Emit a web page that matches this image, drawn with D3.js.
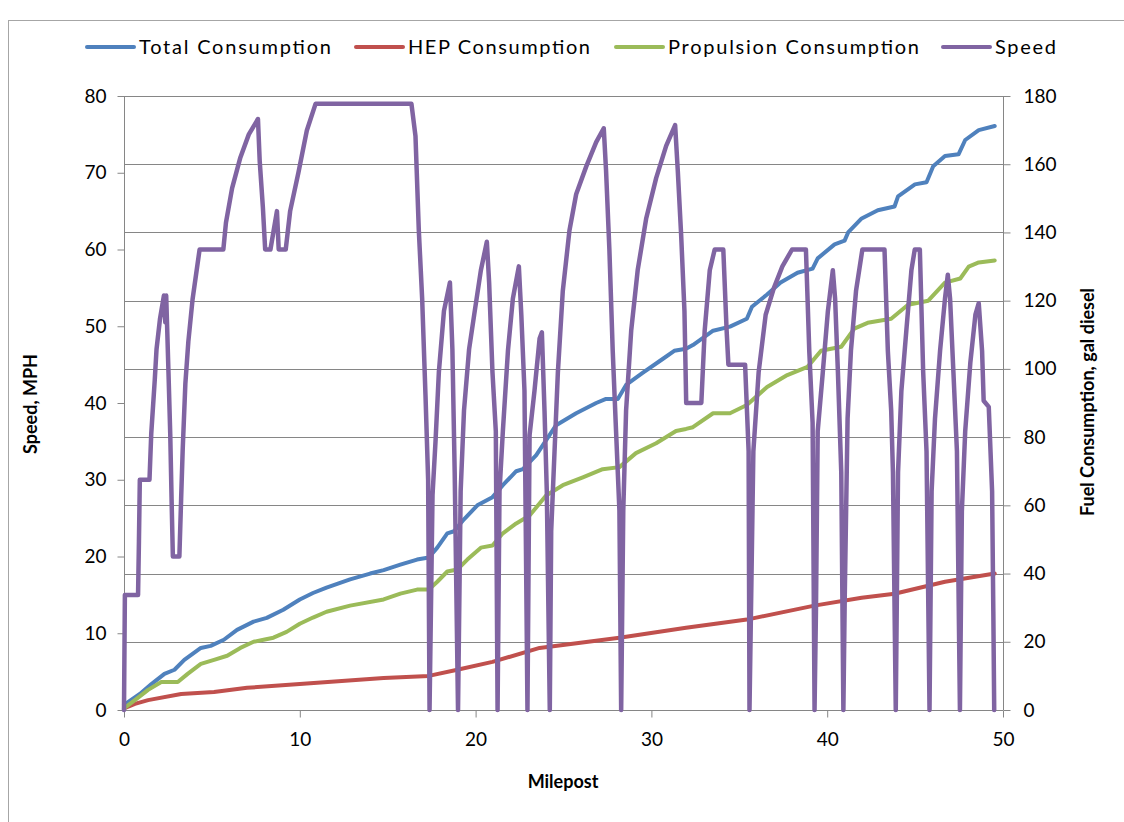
<!DOCTYPE html>
<html><head><meta charset="utf-8">
<script src="https://cdn.jsdelivr.net/npm/d3@7"></script>
<style>
body{margin:0;background:#fff;}
svg{display:block;font-family:Lato,"Liberation Sans",sans-serif;}
</style>
</head><body><svg id="c" width="1124" height="822"></svg>
<script>
// ---------- data ----------
const seriesNames  = ["Total Consumption","HEP Consumption","Propulsion Consumption","Speed"];
const seriesColors = ["#4F81BD","#C0504D","#9BBB59","#8064A2"];

const speedMile = [0,0.05,0.8,0.85,0.9,1.45,1.55,1.75,1.85,2.05,2.27,2.35,2.4,2.53,2.63,2.72,2.78,3.15,3.25,3.34,3.49,3.66,3.9,4.3,5.65,5.8,6.15,6.62,7.1,7.62,7.72,7.9,8.03,8.33,8.7,8.8,9.2,9.45,9.92,10.4,10.9,16.35,16.58,16.77,16.96,17.15,17.3,17.38,17.55,17.72,17.91,18.2,18.54,18.68,18.81,19.0,19.15,19.34,19.63,19.92,20.3,20.64,20.77,20.96,21.15,21.25,21.36,21.55,21.84,22.12,22.46,22.6,22.78,22.95,23.07,23.35,23.64,23.77,23.92,24.05,24.22,24.3,24.49,24.68,24.96,25.34,25.72,26.29,26.86,27.29,27.42,27.61,27.8,27.99,28.18,28.28,28.4,28.56,28.85,29.22,29.7,30.27,30.84,31.35,31.5,31.69,31.88,31.98,32.84,33.03,33.32,33.6,34.09,34.28,34.38,35.33,35.53,35.58,35.8,36.1,36.5,36.97,37.45,38.0,38.79,38.98,39.17,39.28,39.36,39.46,39.75,40.04,40.32,40.45,40.61,40.8,40.92,41.0,41.16,41.35,41.64,42.0,43.26,43.45,43.64,43.74,43.9,44.03,44.22,44.5,44.79,44.98,45.27,45.46,45.65,45.82,45.94,46.13,46.42,46.7,46.86,46.99,47.18,47.38,47.55,47.66,47.85,48.14,48.43,48.62,48.81,48.9,49.19,49.38,49.45,49.5];
const speedMph  = [0,15,15,22,30,30,36,43,47,51,54,50.5,54,44,36,26,20,20,27.5,34,42.5,48,53.5,60,60,63.5,68,72,75,77,71.5,65.5,60,60,65,60,60,65,70,75.5,79,79,74.8,62.5,53.6,41,30,0,28,35,44,52,55.7,47,31,0,28.5,39,47,51.5,57.3,61,55.7,44,36.3,0,28.5,36.3,46.8,53.6,57.8,51.5,41.6,0,35.8,41.6,48.4,49.2,39,28.5,0,23.3,33.7,44,54.6,62.5,67.2,70.8,74,75.8,70.3,60,46.8,36.3,26,0,26,39,49.4,57.3,64,69.3,73.5,76.2,70.3,62,52,40,40,49.4,57.3,60,60,49.4,45,45,33.7,0,33.7,44,51.5,55,57.8,60,60,46.8,37.4,0,12.8,36.3,44,52,57.3,53.6,44,31,0,15,38,46.8,54.6,60,60,46.8,39,31,0,31,41.6,49.4,57.3,60,60,44,33.7,0,28.5,37.9,46.8,53.6,56.7,53.6,44,33.7,0,25.9,36.3,45.2,51.5,53,46.8,40.3,39.5,28.5,12.8,0];

const totalMile = [0,0.9,1.56,2.3,2.87,3.43,4.37,4.93,5.68,6.43,7.37,8.12,9.06,10.0,10.75,11.52,12.86,14.0,14.77,15.72,16.67,17.34,17.82,18.39,18.77,19.34,20.1,20.96,21.55,22.31,22.69,23.45,24.58,25.72,26.86,27.42,28.09,28.56,29.5,30.64,31.3,31.97,32.36,33.51,34.47,35.43,35.72,36.58,37.35,38.31,39.17,39.46,40.42,40.99,41.19,41.96,42.88,43.83,44.03,44.99,45.65,46.03,46.7,47.47,47.85,48.62,49.53];
const totalGal  = [1.5,4.7,7.6,10.6,11.8,14.7,18.2,18.8,20.6,23.5,25.9,27,29.4,32.4,34.3,35.9,38.3,40,41,42.6,44.1,44.7,47.6,51.8,52.4,55.9,60,62.4,65.9,70,70.6,74.7,83.5,87,90,91.2,91.2,95.3,98.8,102.9,105.3,105.9,107,111.2,112.4,114.7,118.2,121.8,125.3,128.2,129.4,132.4,136.5,137.6,140,144.1,146.5,147.6,150.6,154.1,154.7,159.4,162.4,162.9,167.1,170,171.2];

const propMile = [0,0.62,1.37,2.12,3.06,3.62,4.37,5.12,5.87,6.62,7.37,7.94,8.5,9.25,10.0,10.75,11.52,12.86,14.77,15.72,16.67,17.34,17.82,18.39,18.96,19.53,20.3,20.96,21.55,22.31,23.07,24.01,24.96,26.1,27.23,28.18,29.12,30.27,31.4,31.97,32.36,33.51,34.47,35.43,36.58,37.73,38.88,39.65,40.8,41.54,42.3,43.64,44.6,45.75,46.7,47.57,48.05,48.62,49.53];
const propGal  = [0.5,2.9,5.9,8.2,8.2,10.6,13.5,14.7,15.9,18.2,20,20.6,21.2,22.9,25.3,27.1,28.8,30.6,32.4,34.1,35.3,35.3,37.6,40.6,41.2,44.1,47.6,48.2,51.8,54.7,57,62.9,65.9,68.2,70.6,71.2,75.3,78.2,81.8,82.4,82.9,87,87,89.4,94.7,98.2,100.6,105.3,106.5,111.8,113.5,114.7,118.8,120,125.3,126.5,130,131.2,131.8];

const hepMile = [0,0.62,1.37,3.25,5.12,7.0,10.0,14.77,17.34,18.96,20.96,23.64,28.18,31.97,35.43,39.27,41.96,43.83,46.7,49.53];
const hepGal  = [0.5,1.8,2.9,4.7,5.3,6.5,7.6,9.4,10.0,11.8,14.1,18.2,21.2,24.1,26.5,30.6,32.9,34.1,37.6,40];

const xTicks     = [0,10,20,30,40,50];
const speedTicks = [0,10,20,30,40,50,60,70,80];
const fuelTicks  = [0,20,40,60,80,100,120,140,160,180];
const xTitle = "Milepost", yLeftTitle = "Speed, MPH", yRightTitle = "Fuel Consumption, gal diesel";

// ---------- drawing ----------
const svg = d3.select("#c");
const gridCol = "#868686";
const x  = d3.scaleLinear().domain([0,50]).range([124,1003]);
const yL = d3.scaleLinear().domain([0,80]).range([710,96]);
const yR = d3.scaleLinear().domain([0,180]).range([710,96]);

// chart border
svg.append("rect").attr("x",8.5).attr("y",20.5).attr("width",1300).attr("height",1000)
  .attr("fill","none").attr("stroke","#a6a6a6").attr("stroke-width",1);

// gridlines (secondary axis)
svg.append("g").selectAll("line").data(fuelTicks.slice(1)).join("line")
  .attr("x1",x(0)).attr("x2",x(50)).attr("y1",d=>Math.round(yR(d))+0.5).attr("y2",d=>Math.round(yR(d))+0.5)
  .attr("stroke",gridCol).attr("stroke-width",1);

// axes
const fs = 19;
const axL = svg.append("g").attr("transform","translate(124.5,0)")
  .call(d3.axisLeft(yL).tickValues(speedTicks).tickSize(7).tickPadding(11).tickFormat(d3.format("d")));
const axR = svg.append("g").attr("transform","translate(1003.5,0)")
  .call(d3.axisRight(yR).tickValues(fuelTicks).tickSize(7).tickPadding(13).tickFormat(d3.format("d")));
const axB = svg.append("g").attr("transform","translate(0,710.5)")
  .call(d3.axisBottom(x).tickValues(xTicks).tickSize(7).tickPadding(15).tickFormat(d3.format("d")));
[axL,axR,axB].forEach(a=>{
  a.select(".domain").attr("stroke",gridCol);
  a.selectAll(".tick line").attr("stroke",gridCol);
  a.selectAll(".tick text").attr("fill","#000").style("font-size",fs+"px").style("font-family","Lato,'Liberation Sans',sans-serif");
});
axL.select(".domain").attr("d","M0,96V710");
axR.select(".domain").attr("d","M0,96V710");
axB.select(".domain").attr("d","M124,0H1003");

// titles
svg.append("text").attr("x",563).attr("y",788).attr("text-anchor","middle")
  .style("font-size","18px").style("font-weight","bold").text(xTitle);
svg.append("text").attr("transform","translate(37,404) rotate(-90)").attr("text-anchor","middle")
  .style("font-size","18px").style("font-weight","bold").text(yLeftTitle);
svg.append("text").attr("transform","translate(1094,402) rotate(-90)").attr("text-anchor","middle")
  .style("font-size","18px").style("font-weight","bold").text(yRightTitle);

// series lines
function pts(ms, vs){ return ms.map((m,i)=>[m, vs[i]]); }
const lineR = d3.line().x(d=>x(d[0])).y(d=>yR(d[1]));
const lineL = d3.line().x(d=>x(d[0])).y(d=>yL(d[1]));
const plot = svg.append("g").attr("fill","none").attr("stroke-width",4).attr("stroke-linejoin","round").attr("stroke-linecap","round");
plot.append("path").attr("d",lineR(pts(totalMile,totalGal))).attr("stroke",seriesColors[0]);
plot.append("path").attr("d",lineR(pts(hepMile,hepGal))).attr("stroke",seriesColors[1]);
plot.append("path").attr("d",lineR(pts(propMile,propGal))).attr("stroke",seriesColors[2]);
plot.append("path").attr("d",lineL(pts(speedMile,speedMph))).attr("stroke",seriesColors[3]).attr("stroke-width",4.5);

// legend
const legX = [87,356,616,943];
const legW = [192,182,251,61];
const leg = svg.append("g");
seriesNames.forEach((n,i)=>{
  leg.append("line").attr("x1",legX[i]).attr("x2",legX[i]+47).attr("y1",47).attr("y2",47)
    .attr("stroke",seriesColors[i]).attr("stroke-width",4).attr("stroke-linecap","round");
  leg.append("text").attr("x",legX[i]+52).attr("y",54).style("font-size","20px")
    .attr("textLength",legW[i]).attr("lengthAdjust","spacing").text(n);
});
</script></body></html>
